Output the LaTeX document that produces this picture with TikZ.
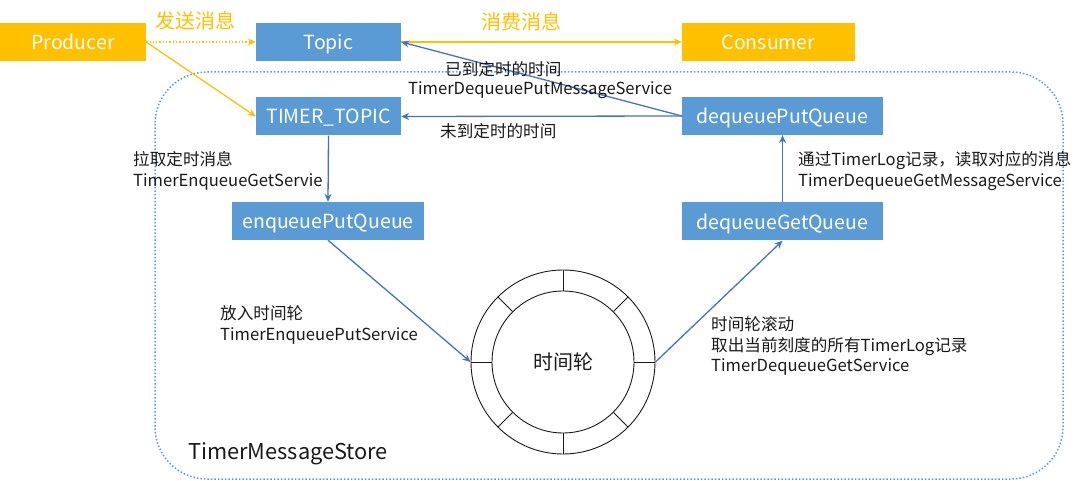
\documentclass[tikz,border=0pt]{standalone}
\usepackage{fontspec}
\setmainfont{Noto Sans CJK SC}
\usetikzlibrary{arrows.meta,positioning,calc}
\definecolor{amber}{RGB}{255,192,0}
\definecolor{qblue}{RGB}{91,155,213}
\definecolor{lineblue}{RGB}{68,114,196}
\definecolor{ink}{RGB}{25,25,25}

\tikzset{
  qbox/.style={fill=qblue,text=white,minimum height=38pt,inner sep=0pt,
    text depth=0pt,font=\fontsize{19.5}{22}\selectfont},
  obox/.style={qbox,fill=amber},
  note/.style={anchor=west,align=left,text=ink,inner sep=0pt,
    font=\fontsize{16.6}{20.5}\selectfont},
  flow/.style={lineblue,line width=1.3pt,-{Stealth[length=8pt,width=7pt]}},
  feed/.style={amber,line width=1.3pt,-{Stealth[length=8pt,width=7pt]}}
}

\begin{document}
\begin{tikzpicture}[x=1pt,y=1pt]
  \useasboundingbox (0,0) rectangle (1080,-481);

  % the store
  \draw[qblue,dotted,line width=1.5pt,rounded corners=52pt]
    (155,-72) rectangle (1063,-479);
  \node[anchor=west,inner sep=0pt,text=ink,font=\fontsize{21.8}{24}\selectfont]
    (store) at (188,-454) {TimerMessageStore};

  % queues and topics
  \node[obox,minimum width=146pt] (prod) at (73,-42) {Producer};
  \node[qbox,minimum width=145pt] (topic) at (328.5,-42) {Topic};
  \node[obox,minimum width=173pt] (cons) at (768.5,-42) {Consumer};
  \node[qbox,minimum width=145pt] (ttopic) at (328.5,-116.5) {TIMER\_TOPIC};
  \node[qbox,minimum width=192pt] (epq) at (328,-221) {enqueuePutQueue};
  \node[qbox,minimum width=201pt] (dpq) at (782.5,-116) {dequeuePutQueue};
  \node[qbox,minimum width=201pt] (dgq) at (782.5,-221.5) {dequeueGetQueue};

  % time wheel
  \node[circle,draw=ink,line width=0.9pt,minimum size=184pt,inner sep=0pt]
    (wheel) at (563,-362) {};
  \node[circle,draw=ink,line width=0.9pt,minimum size=142pt,inner sep=0pt,
    text=ink,font=\fontsize{20}{24}\selectfont] (hub) at (wheel) {时间轮};
  \foreach \a in {0,45,...,315}
    \draw[ink,line width=0.9pt] (hub.\a) -- (wheel.\a);

  % sending and consuming
  \draw[feed,dotted] (prod.east) -- (topic.west);
  \draw[feed] (prod.east) -- (ttopic.west);
  \draw[feed] (topic.east) -- (cons.west);
  \node[text=amber,font=\fontsize{20}{24}\selectfont] (send) at (195,-21) {发送消息};
  \node[text=amber,font=\fontsize{20}{24}\selectfont] (consume) at (521,-22) {消费消息};

  % timer flow
  \draw[flow] (dpq.west) -- (topic.east);
  \draw[flow] (dpq.west) -- (ttopic.west -| ttopic.east);
  \draw[flow] (ttopic.south) -- (epq.north);
  \draw[flow] (epq.south) -- (wheel.west);
  \draw[flow] (wheel.east) -- (dgq.south);
  \draw[flow] (dgq.north) -- (dpq.south);

  \node[note] (due) at (445,-69) {已到定时的时间};
  \node[note] (dueSvc) at (408,-90) {TimerDequeuePutMessageService};
  \node[note] (notDue) at (440,-131) {未到定时的时间};
  \node[note] (pull) at (133,-171) {拉取定时消息\\TimerEnqueueGetServie};
  \node[note] (put) at (220,-325) {放入时间轮\\TimerEnqueuePutService};
  \node[note] (roll) at (711,-346) {时间轮滚动\\取出当前刻度的所有TimerLog记录\\TimerDequeueGetService};
  \node[note] (read) at (798,-171) {通过TimerLog记录，读取对应的消息\\TimerDequeueGetMessageService};
\end{tikzpicture}
\end{document}
